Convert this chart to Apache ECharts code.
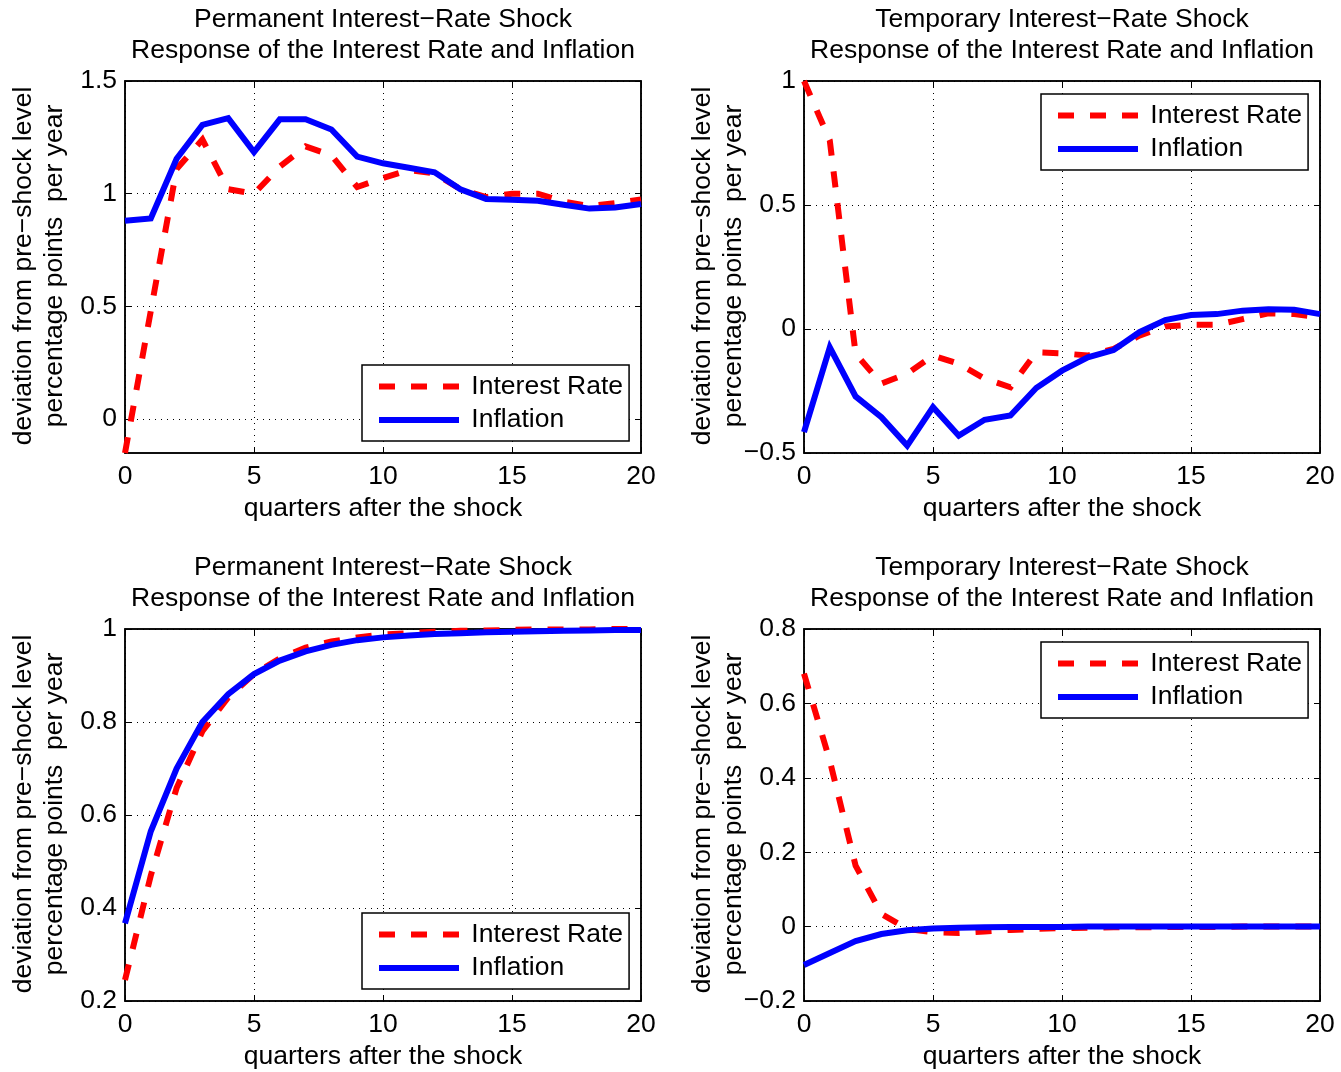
<!DOCTYPE html>
<html><head><meta charset="utf-8">
<script src="https://cdn.jsdelivr.net/npm/echarts@6/dist/echarts.min.js"></script>
<style>html,body{margin:0;padding:0;background:#fff}#c{width:1341px;height:1072px}</style>
</head><body><div id="c"></div>
<script>
const quarters = [0,1,2,3,4,5,6,7,8,9,10,11,12,13,14,15,16,17,18,19,20];
const xTicks = [0,5,10,15,20];

// Panel 1: Permanent shock (top-left)
const p1Rate = [-0.15,0.48,1.11,1.24,1.02,1.00,1.12,1.21,1.17,1.03,1.07,1.105,1.09,1.02,0.985,1.0,1.0,0.965,0.945,0.958,0.975];
const p1Infl = [0.88,0.89,1.155,1.305,1.335,1.185,1.33,1.33,1.285,1.165,1.135,1.115,1.095,1.02,0.977,0.973,0.969,0.951,0.934,0.939,0.954];
const p1Ticks = [0,0.5,1,1.5];
// Panel 2: Temporary shock (top-right)
const p2Rate = [1.0,0.76,-0.10,-0.22,-0.18,-0.107,-0.14,-0.20,-0.235,-0.094,-0.098,-0.107,-0.08,-0.027,0.01,0.017,0.017,0.04,0.063,0.06,0.047];
const p2Infl = [-0.416,-0.074,-0.272,-0.356,-0.47,-0.315,-0.43,-0.366,-0.349,-0.238,-0.168,-0.114,-0.085,-0.013,0.036,0.056,0.06,0.074,0.08,0.078,0.06];
const p2Ticks = [-0.5,0,0.5,1];
// Panel 3: Permanent shock (bottom-left)
const p3Rate = [0.245,0.47,0.658,0.78,0.853,0.903,0.937,0.96,0.973,0.982,0.988,0.991,0.994,0.996,0.997,0.998,0.999,0.999,0.999,1.0,1.0];
const p3Infl = [0.367,0.565,0.70,0.80,0.86,0.903,0.932,0.952,0.966,0.976,0.982,0.986,0.989,0.991,0.993,0.994,0.995,0.996,0.997,0.998,0.998];
const p3Ticks = [0.2,0.4,0.6,0.8,1];
// Panel 4: Temporary shock (bottom-right)
const p4Rate = [0.68,0.446,0.164,0.034,-0.006,-0.015,-0.017,-0.013,-0.009,-0.006,-0.004,-0.003,-0.002,-0.002,-0.001,-0.001,-0.001,0,0,0,0];
const p4Infl = [-0.103,-0.071,-0.039,-0.02,-0.01,-0.005,-0.003,-0.002,-0.001,-0.001,-0.001,0,0,0,0,0,0,0,0,0,0];
const p4Ticks = [-0.2,0,0.2,0.4,0.6,0.8];

const titlePerm = 'Permanent Interest\u2212Rate Shock\nResponse of the Interest Rate and Inflation';
const titleTemp = 'Temporary Interest\u2212Rate Shock\nResponse of the Interest Rate and Inflation';
const yName = 'deviation from pre\u2212shock level\npercentage points  per year';
const xName = 'quarters after the shock';
const seriesNames = ['Interest Rate','Inflation'];

const FONT = '"Liberation Sans", Arial, Helvetica, sans-serif';
const FS = 26.5;

const panels = [
  {left:125, top:81, rate:p1Rate, infl:p1Infl, ticks:p1Ticks, title:titlePerm, legendLeft:362, legendTop:365},
  {left:804, top:81, rate:p2Rate, infl:p2Infl, ticks:p2Ticks, title:titleTemp, legendLeft:1041, legendTop:94},
  {left:125, top:629, rate:p3Rate, infl:p3Infl, ticks:p3Ticks, title:titlePerm, legendLeft:362, legendTop:913},
  {left:804, top:629, rate:p4Rate, infl:p4Infl, ticks:p4Ticks, title:titleTemp, legendLeft:1041, legendTop:642}
];
const W = 516, H = 372;

const fmt = v => String(Math.round(v*1000)/1000).replace('-', '\u2212');

const grid = [], xAxis = [], yAxis = [], series = [], legend = [], graphic = [];
panels.forEach((p, i) => {
  grid.push({left:p.left, top:p.top, width:W, height:H, show:true, borderColor:'#000', borderWidth:1.5, backgroundColor:'#fff'});
  const dmin = Math.min(...p.rate, ...p.infl);
  const ymin = p.ticks[0] <= dmin ? p.ticks[0] : dmin;
  const ymax = p.ticks[p.ticks.length-1];
  xAxis.push({
    type:'value', gridIndex:i, min:quarters[0], max:quarters[quarters.length-1], interval:5,
    axisLine:{show:true, onZero:false, lineStyle:{color:'#000', width:1.5}},
    axisTick:{show:true, inside:true, length:6, lineStyle:{color:'#000', width:1}, customValues:xTicks},
    axisLabel:{show:true, color:'#000', fontFamily:FONT, fontSize:FS, margin:10, formatter:fmt, customValues:xTicks},
    splitLine:{show:true, lineStyle:{color:'#000', width:1, type:[1,5]}}
  });
  xAxis.push({
    type:'value', gridIndex:i, position:'top', min:quarters[0], max:quarters[quarters.length-1], interval:5,
    axisLine:{show:true, onZero:false, lineStyle:{color:'#000', width:1.5}},
    axisTick:{show:true, inside:true, length:6, lineStyle:{color:'#000', width:1}},
    axisLabel:{show:false}, splitLine:{show:false}
  });
  const yCommon = {
    type:'value', gridIndex:i, min:ymin, max:ymax,
    axisLine:{show:true, onZero:false, lineStyle:{color:'#000', width:1.5}},
  };
  yAxis.push(Object.assign({}, yCommon, {
    position:'left',
    axisTick:{show:true, inside:true, length:6, lineStyle:{color:'#000', width:1}, customValues:p.ticks},
    axisLabel:{show:true, color:'#000', fontFamily:FONT, fontSize:FS, margin:8, formatter:fmt, customValues:p.ticks},
    splitLine:{show:true, lineStyle:{color:'#000', width:1, type:[1,5]}, customValues:p.ticks}
  }));
  yAxis.push(Object.assign({}, yCommon, {
    position:'right',
    axisTick:{show:true, inside:true, length:6, lineStyle:{color:'#000', width:1}, customValues:p.ticks},
    axisLabel:{show:false}, splitLine:{show:false}
  }));
  series.push({
    type:'line', name:seriesNames[0], xAxisIndex:2*i, yAxisIndex:2*i,
    data: quarters.map((q, k) => [q, p.rate[k]]),
    symbol:'none', z:2, animation:false,
    lineStyle:{color:'#ff0000', width:6, type:[16,16], cap:'butt', join:'miter'},
    itemStyle:{color:'#ff0000'}
  });
  series.push({
    type:'line', name:seriesNames[1], xAxisIndex:2*i, yAxisIndex:2*i,
    data: quarters.map((q, k) => [q, p.infl[k]]),
    symbol:'none', z:3, animation:false,
    lineStyle:{color:'#0000ff', width:6, type:'solid', cap:'butt', join:'miter'},
    itemStyle:{color:'#0000ff'}
  });
  legend.push({
    left:p.legendLeft, top:p.legendTop, orient:'vertical',
    data:seriesNames, itemWidth:80, itemHeight:27, itemGap:6.5,
    padding:[8,6,7.5,14], backgroundColor:'#fff', borderColor:'#000', borderWidth:1.5, borderRadius:0,
    textStyle:{color:'#000', fontFamily:FONT, fontSize:FS, lineHeight:27},
    formatter: n => ' ' + n,
    itemStyle:{opacity:0},
    lineStyle:{width:6},
    selectedMode:false, z:10
  });
  const cx = p.left + W/2;
  graphic.push({
    type:'text', x:cx, y:p.top - 76.5, z:10,
    style:{text:p.title, fill:'#000', font:FS + 'px ' + FONT, textAlign:'center', textVerticalAlign:'top', lineHeight:31}
  });
  graphic.push({
    type:'text', x:cx, y:p.top + H + 56, z:10,
    style:{text:xName, fill:'#000', font:FS + 'px ' + FONT, textAlign:'center', textVerticalAlign:'middle'}
  });
  graphic.push({
    type:'text', x:p.left - 86, y:p.top + H/2 - 1, rotation:Math.PI/2, z:10,
    style:{text:yName, fill:'#000', font:FS + 'px ' + FONT, textAlign:'center', textVerticalAlign:'middle', lineHeight:31}
  });
});

const chart = echarts.init(document.getElementById('c'), null, {renderer:'canvas'});
chart.setOption({
  animation:false,
  backgroundColor:'#fff',
  grid, xAxis, yAxis, series, legend, graphic
});
</script>
</body></html>
